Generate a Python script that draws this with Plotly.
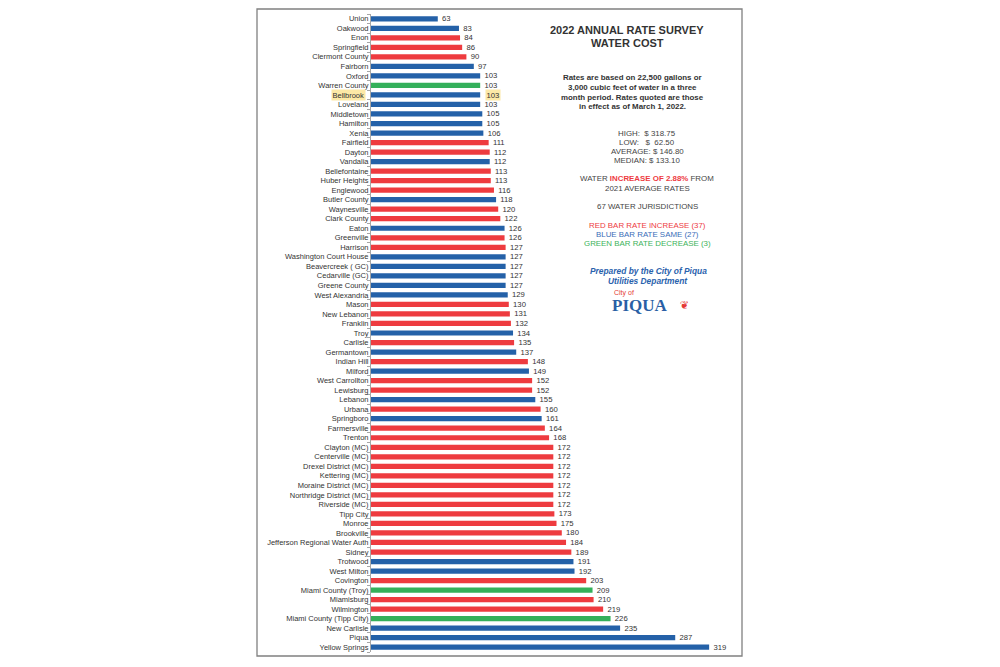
import plotly.graph_objects as go

categories = [
    "Union", "Oakwood", "Enon", "Springfield", "Clermont County", "Fairborn", "Oxford",
    "Warren County", "Bellbrook", "Loveland", "Middletown", "Hamilton", "Xenia", "Fairfield",
    "Dayton", "Vandalia", "Bellefontaine", "Huber Heights", "Englewood", "Butler County",
    "Waynesville", "Clark County", "Eaton", "Greenville", "Harrison", "Washington Court House",
    "Beavercreek ( GC)", "Cedarville (GC)", "Greene County", "West Alexandria", "Mason",
    "New Lebanon", "Franklin", "Troy", "Carlisle", "Germantown", "Indian Hill", "Milford",
    "West Carrollton", "Lewisburg", "Lebanon", "Urbana", "Springboro", "Farmersville",
    "Trenton", "Clayton (MC)", "Centerville (MC)", "Drexel District (MC)", "Kettering (MC)",
    "Moraine District (MC)", "Northridge District (MC)", "Riverside (MC)", "Tipp City",
    "Monroe", "Brookville", "Jefferson Regional Water Auth", "Sidney", "Trotwood",
    "West Milton", "Covington", "Miami County (Troy)", "Miamisburg", "Wilmington",
    "Miami County (Tipp City)", "New Carlisle", "Piqua", "Yellow Springs",
]
values = [
    63, 83, 84, 86, 90, 97, 103, 103, 103, 103, 105, 105, 106, 111, 112, 112, 113, 113,
    116, 118, 120, 122, 126, 126, 127, 127, 127, 127, 127, 129, 130, 131, 132, 134, 135,
    137, 148, 149, 152, 152, 155, 160, 161, 164, 168, 172, 172, 172, 172, 172, 172, 172,
    173, 175, 180, 184, 189, 191, 192, 203, 209, 210, 219, 226, 235, 287, 319,
]
# R = rate increase, B = same, G = decrease
status = [
    "B", "B", "R", "R", "R", "B", "B", "G", "B", "B", "B", "B", "B", "R", "R", "B", "R", "R",
    "R", "B", "R", "R", "B", "R", "R", "B", "B", "B", "B", "B", "R", "R", "R", "B", "R",
    "B", "R", "B", "R", "R", "B", "R", "B", "R", "R", "R", "R", "R", "R", "R", "R", "R",
    "R", "R", "R", "R", "R", "B", "B", "R", "G", "R", "R", "G", "B", "B", "B",
]
highlight = "Bellbrook"

COLORS = {"R": "#EE3B3F", "B": "#2461A8", "G": "#34B05A"}
bar_colors = [COLORS[s] for s in status]
bar_text = ["" if c == highlight else "  " + str(v) for c, v in zip(categories, values)]
tick_text = ["" if c == highlight else c for c in categories]

W, H = 1000, 667
L, R, T, B = 371, 258, 14, 15
PW, PH = W - L - R, H - T - B


def px(x):
    return (x - L) / PW


def py(y):
    return 1 - (y - T) / PH


fig = go.Figure(
    go.Bar(
        x=values,
        y=categories,
        orientation="h",
        marker=dict(color=bar_colors, line=dict(width=0)),
        text=bar_text,
        textposition="outside",
        constraintext="none",
        cliponaxis=False,
        textfont=dict(family="Liberation Sans, Arial", size=7.7, color="#333333"),
        hoverinfo="skip",
    )
)

TXT = "#444444"
ann = []


def add(text, x, y, size=8, color=TXT, family="Liberation Sans, Arial", **kw):
    ann.append(dict(text=text, x=px(x), y=py(y), xref="paper", yref="paper",
                    showarrow=False, font=dict(size=size, color=color, family=family),
                    xanchor=kw.pop("xanchor", "center"), yanchor="middle", **kw))


add("<b>2022 ANNUAL RATE SURVEY</b>", 627, 30, size=11, color="#333333")
add("<b>WATER COST</b>", 627, 43, size=11, color="#333333")
for i, line in enumerate([
    "Rates are based on 22,500 gallons or",
    "3,000 cubic feet of water in a three",
    "month period. Rates quoted are those",
    "in effect as of March 1, 2022.",
]):
    add("<b>" + line + "</b>", 632, 78 + i * 9.5, size=7.9, color="#333333")
for i, line in enumerate([
    "HIGH:  $ 318.75",
    "LOW:   $  62.50",
    "AVERAGE: $ 146.80",
    "MEDIAN: $ 133.10",
]):
    add(line, 647, 133 + i * 9.3, size=7.9)
add("WATER <b><span style='color:#EE3B3F'>INCREASE OF 2.88%</span></b> FROM", 647, 179, size=7.9)
add("2021 AVERAGE RATES", 647, 188.5, size=7.9)
add("67 WATER JURISDICTIONS", 647, 207, size=7.9)
add("RED BAR RATE INCREASE (37)", 647, 225, size=7.9, color="#EE3B3F")
add("BLUE BAR RATE SAME (27)", 647, 234, size=7.9, color="#3A6EB8")
add("GREEN BAR RATE DECREASE (3)", 647, 243, size=7.9, color="#3DB35A")
add("<b><i>Prepared by the City of Piqua</i></b>", 648, 271, size=8.4, color="#2A62AD")
add("<b><i>Utilities Department</i></b>", 648, 281, size=8.4, color="#2A62AD")
add("City of", 624, 293, size=7, color="#E53935")
add("<b>PIQUA</b>", 640, 306, size=17, color="#2A5FA5", family="Liberation Serif, Times New Roman")
add("❦", 684, 305, size=11, color="#E53935", family="DejaVu Sans")

# highlighted Bellbrook label and value
hi_idx = categories.index(highlight)
ann.append(dict(text=highlight, x=0, xref="x", y=highlight, yref="y", xanchor="right",
                yanchor="middle", xshift=-5, showarrow=False, bgcolor="#FCE8A6",
                borderpad=0.5,
                font=dict(family="Liberation Sans, Arial", size=7.5, color="#333333")))
ann.append(dict(text=str(values[hi_idx]), x=values[hi_idx], xref="x", y=highlight, yref="y",
                xanchor="left", yanchor="middle", xshift=5, showarrow=False,
                bgcolor="#FCE8A6", borderpad=0.5,
                font=dict(family="Liberation Sans, Arial", size=7.7, color="#333333")))

fig.update_layout(
    width=W, height=H,
    margin=dict(l=L, r=R, t=T, b=B),
    paper_bgcolor="white", plot_bgcolor="white",
    showlegend=False,
    bargap=0.45,
    annotations=ann,
    shapes=[dict(type="rect", xref="paper", yref="paper",
                 x0=px(257), x1=px(742), y0=py(656), y1=py(9),
                 line=dict(color="#808080", width=1.3), fillcolor="rgba(0,0,0,0)")],
    xaxis=dict(range=[0, PW / 1.06], visible=False, fixedrange=True),
    yaxis=dict(
        type="category", autorange="reversed", fixedrange=True,
        tickvals=categories, ticktext=tick_text,
        showline=True, linecolor="#A6A6A6", linewidth=1,
        ticks="outside", tickson="boundaries", ticklen=3, tickcolor="#A6A6A6",
        showgrid=False,
        tickfont=dict(family="Liberation Sans, Arial", size=7.5, color="#333333"),
    ),
)

fig.write_html("out.html", config={"displayModeBar": False},
               post_script="document.body.style.margin='0';")
